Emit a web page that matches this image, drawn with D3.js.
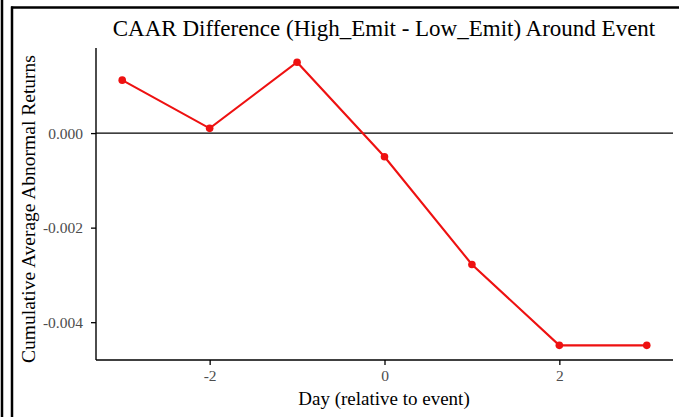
<!DOCTYPE html>
<html>
<head>
<meta charset="utf-8">
<script src="https://cdn.jsdelivr.net/npm/d3@7"></script>
<style>
  body { margin: 0; background: #fff; }
  svg { display: block; font-family: "Liberation Serif", "Times New Roman", serif; }
  svg text { font-family: "Liberation Serif", "Times New Roman", serif; }
  .tick text { font-size: 15.5px; fill: #4d4d4d; }
</style>
</head>
<body>
<svg id="chart" width="679" height="417"></svg>
<script>
// event window days and CAAR difference values
const days = [-3, -2, -1, 0, 1, 2, 3];
const caarDiff = [0.00112, 0.00010, 0.00150, -0.00050, -0.00278, -0.00449, -0.00449];
const xTicks = [-2, 0, 2];
const yTicks = [0, -0.002, -0.004];

const svg = d3.select("#chart");

// outer frame lines (the image is a cropped panel)
svg.append("line").attr("x1", 2).attr("x2", 2).attr("y1", 0).attr("y2", 417)
  .attr("stroke", "#000").attr("stroke-width", 2.5);
svg.append("line").attr("x1", 12).attr("x2", 12).attr("y1", 6.5).attr("y2", 417)
  .attr("stroke", "#000").attr("stroke-width", 2.5);
svg.append("line").attr("x1", 11).attr("x2", 679).attr("y1", 7.5).attr("y2", 7.5)
  .attr("stroke", "#000").attr("stroke-width", 2.5);

const plot = { left: 96, right: 673, top: 48, bottom: 360 };

const x = d3.scaleLinear().domain([-3.3, 3.3]).range([plot.left, plot.right]);
const y = d3.scaleLinear().domain([-0.0048, 0.0018]).range([plot.bottom, plot.top]);

// hyphen minus like the original
const hyph = f => v => f(v).replace("\u2212", "-");

// zero reference line
svg.append("line")
  .attr("x1", plot.left).attr("x2", plot.right)
  .attr("y1", y(0)).attr("y2", y(0))
  .attr("stroke", "#000").attr("stroke-width", 1.2);

// axes
const xAxis = svg.append("g")
  .attr("transform", "translate(0," + plot.bottom + ")")
  .call(d3.axisBottom(x).tickValues(xTicks).tickSize(5).tickPadding(5).tickFormat(hyph(d3.format("d"))));
const yAxis = svg.append("g")
  .attr("transform", "translate(" + plot.left + ",0)")
  .call(d3.axisLeft(y).tickValues(yTicks).tickSize(5).tickPadding(8).tickFormat(hyph(d3.format(".3f"))));

[xAxis, yAxis].forEach(a => {
  a.attr("font-family", null).attr("font-size", null);
  a.select(".domain").remove();
  a.selectAll("line").attr("stroke", "#000").attr("stroke-width", 1.3);
});
svg.append("line").attr("x1", plot.left).attr("x2", plot.right).attr("y1", plot.bottom).attr("y2", plot.bottom)
  .attr("stroke", "#000").attr("stroke-width", 1.4);
svg.append("line").attr("x1", plot.left).attr("x2", plot.left).attr("y1", plot.top).attr("y2", plot.bottom)
  .attr("stroke", "#000").attr("stroke-width", 1.4);

// series line + points
const pts = days.map((d, i) => ({ day: d, v: caarDiff[i] }));
svg.append("path")
  .datum(pts)
  .attr("fill", "none")
  .attr("stroke", "#ee1111")
  .attr("stroke-width", 2.1)
  .attr("d", d3.line().x(d => x(d.day)).y(d => y(d.v)));
svg.selectAll(".pt").data(pts).enter().append("circle")
  .attr("class", "pt")
  .attr("cx", d => x(d.day)).attr("cy", d => y(d.v))
  .attr("r", 3.8)
  .attr("fill", "#ee1111");

// titles
svg.append("text")
  .attr("x", 384).attr("y", 36)
  .attr("text-anchor", "middle")
  .style("font-size", "23px")
  .text("CAAR Difference (High_Emit - Low_Emit) Around Event");

svg.append("text")
  .attr("x", 384).attr("y", 405)
  .attr("text-anchor", "middle")
  .style("font-size", "19px")
  .text("Day (relative to event)");

svg.append("text")
  .attr("transform", "translate(35,209) rotate(-90)")
  .attr("text-anchor", "middle")
  .style("font-size", "19.5px")
  .text("Cumulative Average Abnormal Returns");
</script>
</body>
</html>
